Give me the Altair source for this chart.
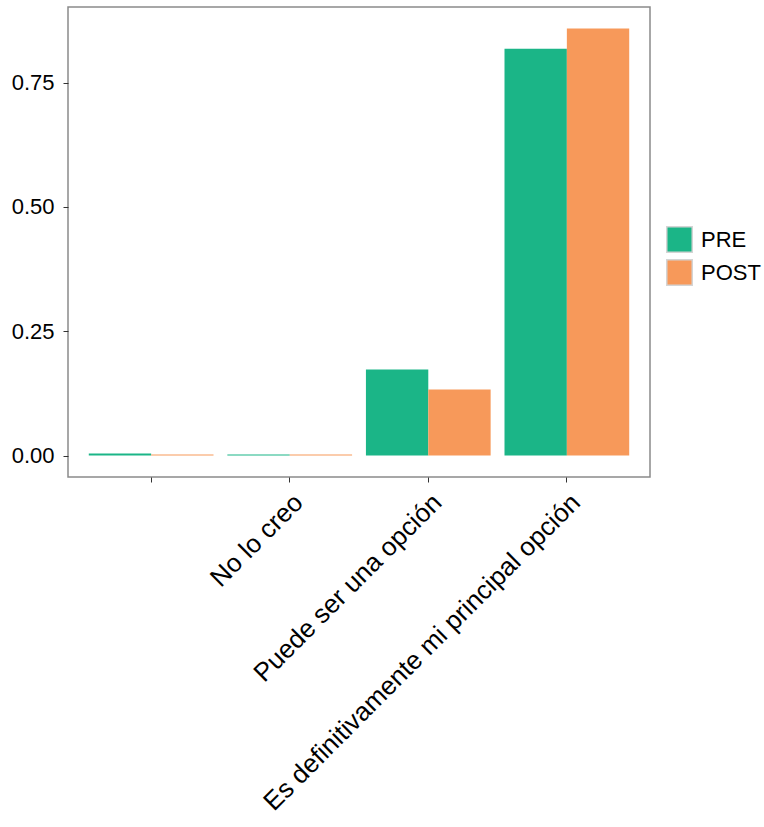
import altair as alt
import pandas as pd

categories = ["", "No lo creo", "Puede ser una opción", "Es definitivamente mi principal opción"]
groups = ["PRE", "POST"]
pre_values = [0.004, 0.002, 0.173, 0.818]
post_values = [0.002, 0.002, 0.133, 0.859]
colors = ["#1BB587", "#F7995A"]

rows = []
for cat, pre, post in zip(categories, pre_values, post_values):
    rows.append({"respuesta": cat, "momento": "PRE", "prop": pre})
    rows.append({"respuesta": cat, "momento": "POST", "prop": post})
df = pd.DataFrame(rows)

font = "Liberation Sans"

chart = (
    alt.Chart(df)
    .mark_bar()
    .encode(
        x=alt.X(
            "respuesta:N",
            sort=categories,
            title=None,
            scale=alt.Scale(paddingInner=0.1, paddingOuter=0.15),
            axis=alt.Axis(
                labelAngle=-45,
                labelAlign="right",
                labelBaseline="top",
                labelFontSize=26,
                labelFont=font,
                labelColor="#000000",
                labelPadding=7,
                tickSize=5,
                tickColor="#333333",
                domain=False,
                labelLimit=700,
            ),
        ),
        xOffset=alt.XOffset(
            "momento:N",
            sort=groups,
            scale=alt.Scale(paddingInner=0, paddingOuter=0),
        ),
        y=alt.Y(
            "prop:Q",
            title=None,
            scale=alt.Scale(domain=[-0.043, 0.902], nice=False, zero=False),
            axis=alt.Axis(
                values=[0, 0.25, 0.5, 0.75],
                format=".2f",
                labelFontSize=22,
                labelFont=font,
                labelColor="#000000",
                labelPadding=9,
                tickSize=5,
                tickColor="#333333",
                domain=False,
                grid=False,
            ),
        ),
        color=alt.Color(
            "momento:N",
            sort=groups,
            scale=alt.Scale(domain=groups, range=colors),
            legend=alt.Legend(
                title=None,
                orient="none",
                legendX=598,
                legendY=219,
                padding=0,
                symbolType="square",
                symbolSize=650,
                symbolStrokeColor="#d4d4d4",
                symbolStrokeWidth=1.5,
                symbolOpacity=1,
                labelFontSize=22,
                labelFont=font,
                labelColor="#000000",
                rowPadding=0,
                labelOffset=8,
            ),
        ),
    )
    .properties(
        width=582,
        height=470,
        view=alt.ViewBackground(stroke="#8a8a8a", strokeWidth=1.5, fill="white"),
        autosize=alt.AutoSizeParams(type="none"),
        padding={"left": 68, "top": 7, "right": 114, "bottom": 350},
    )
    .configure(background="white")
)

chart.save("out.html", embed_options={"renderer": "svg", "actions": False})
